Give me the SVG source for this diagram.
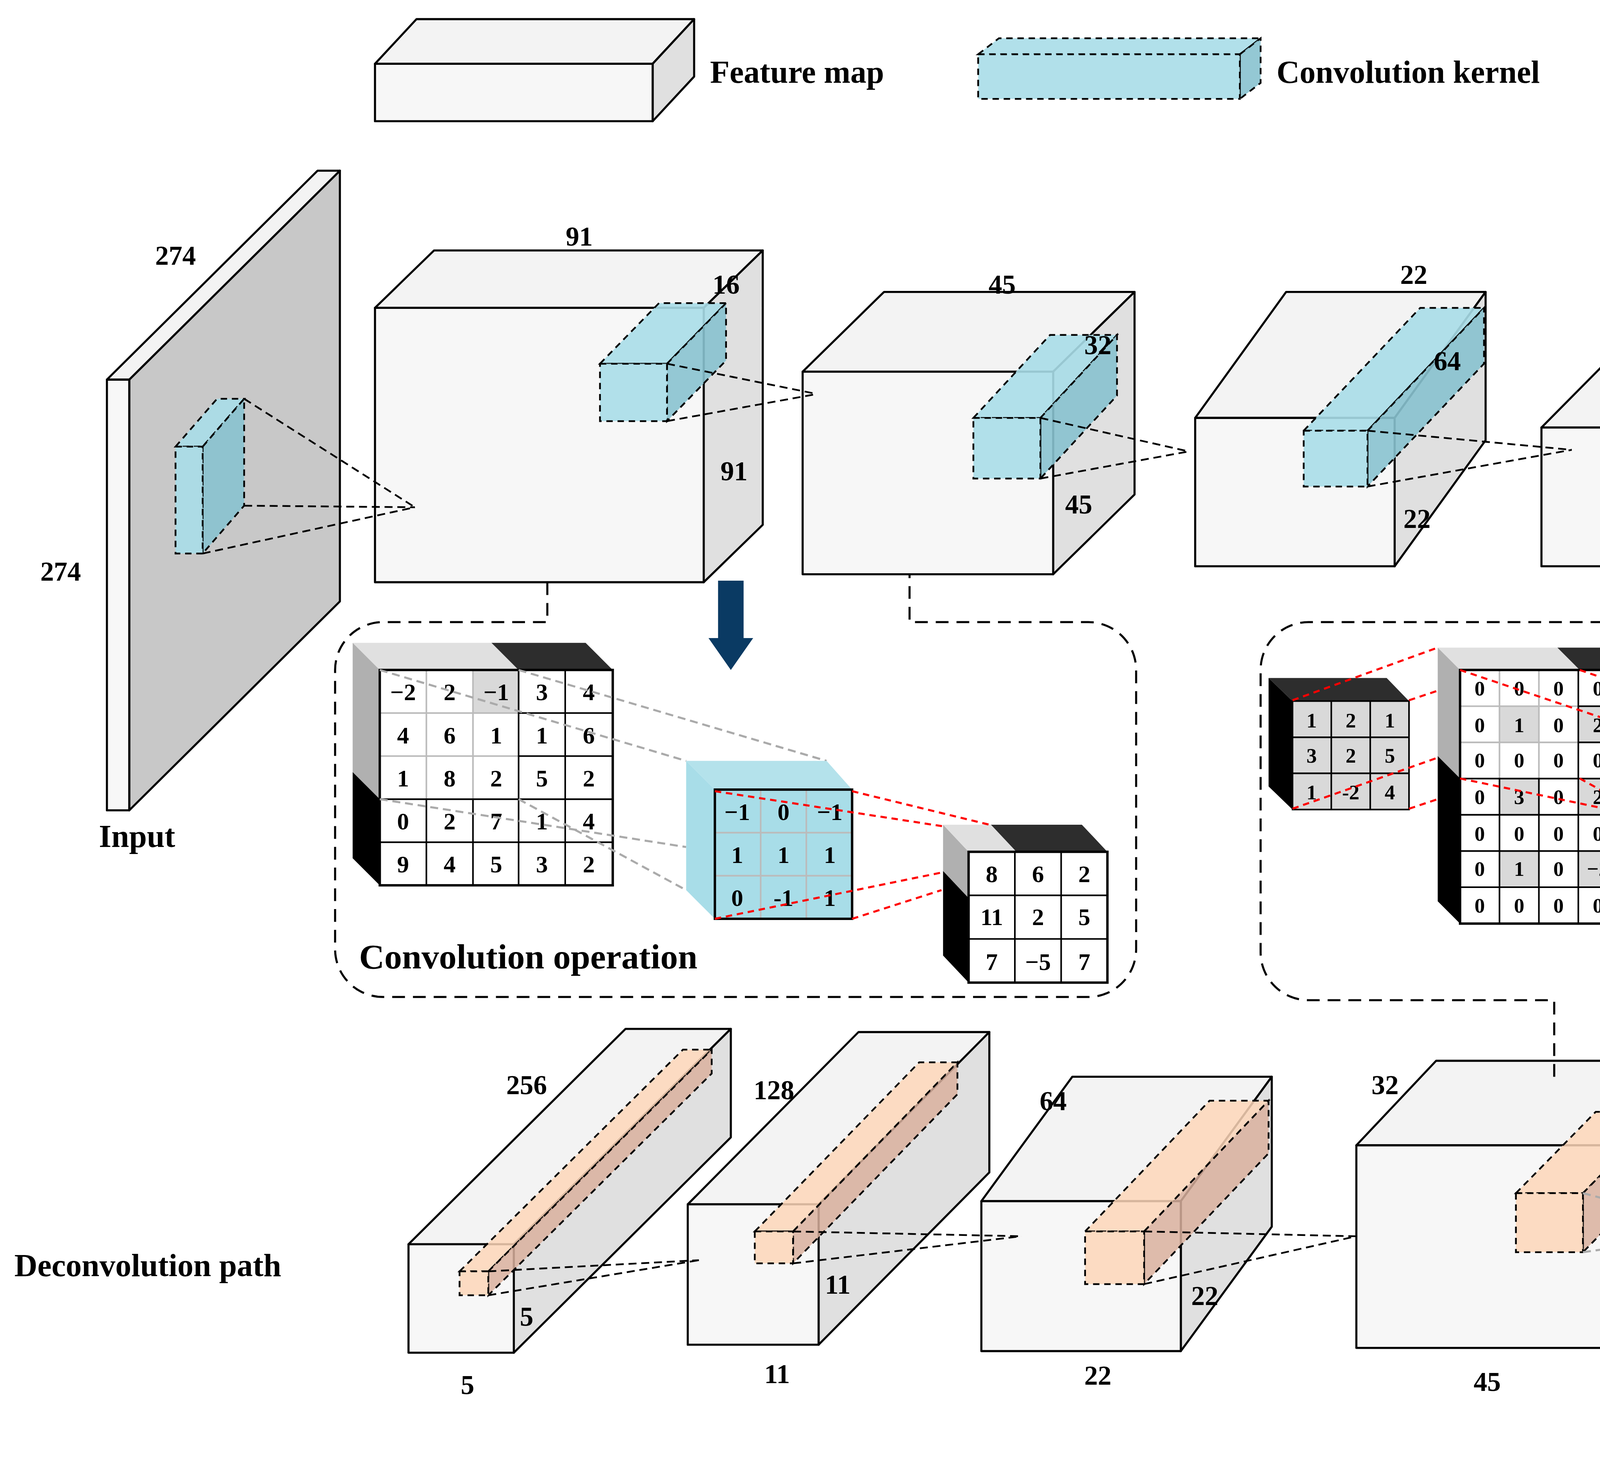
<svg xmlns="http://www.w3.org/2000/svg" width="6389" height="3744" viewBox="0 0 6389 3744">
<style>
.s{stroke:#000;stroke-width:1.3;stroke-linejoin:round}
.fr{fill:#f7f7f7}.tp{fill:#f3f3f3}.rt{fill:#e0e0e0}
.kb{fill:#a8dde8;stroke:#000;stroke-width:1.1;stroke-dasharray:4 3;fill-opacity:.9}
.kbr{fill:#88c2cf;stroke:#000;stroke-width:1.1;stroke-dasharray:4 3;fill-opacity:.9}
.kp{fill:#fdd6b8;stroke:#000;stroke-width:1.1;stroke-dasharray:4 3;fill-opacity:.85}
.kpr{fill:#d9b09e;stroke:#000;stroke-width:1.1;stroke-dasharray:4 3;fill-opacity:.85}
.dl{stroke:#000;stroke-width:1.1;stroke-dasharray:5 3;fill:none}
.gl{stroke:#aaa;stroke-width:1.3;stroke-dasharray:5 3;fill:none}
.rl{stroke:#f00;stroke-width:1.3;stroke-dasharray:4 3;fill:none}
.bx{stroke:#000;stroke-width:1.3;stroke-dasharray:8 5;fill:none}
text{font-family:"Liberation Serif","Times New Roman",serif;font-weight:bold;fill:#000}
.L{font-size:20px}.T{font-size:22px}.n{font-size:17px;text-anchor:middle}
.m{font-size:15px;text-anchor:middle}.q{font-size:13px;text-anchor:middle}
.cell{fill:#fff;stroke:#000;stroke-width:1}
.cg{fill:#d9d9d9;stroke:#000;stroke-width:1}
.lc{fill:none;stroke:#bbb;stroke-width:1}
.arr{fill:#0a3a63}
</style>
<rect width="6389" height="3744" fill="#fff"/>
<g transform="scale(4.085)">
<g id="legend">
<polygon class="s tp" points="235,40 261,12 435,12 409,40"/><polygon class="s rt" points="409,40 435,12 435,48 409,76"/><rect class="s fr" x="235" y="40" width="174" height="36"/>
<text class="L" x="445" y="52">Feature map</text>
<polygon class="kb" points="613,34 626,24 790,24 777,34"/><polygon class="kbr" points="777,34 790,24 790,52 777,62"/><rect class="kb" x="613" y="34" width="164" height="28"/>
<text class="L" x="800" y="52">Convolution kernel</text>
<polygon class="kp" points="1047,34 1060,24 1223,24 1210,34"/><polygon class="kpr" points="1210,34 1223,24 1223,52 1210,62"/><rect class="kp" x="1047" y="34" width="163" height="28"/>
<text class="L" x="1230" y="52">Deconvolution kernel</text>
</g>
<g id="input">
<polygon class="s" fill="#c8c8c8" points="81,238 213,107 213,377 81,508"/><polygon class="s tp" points="67,238 199,107 213,107 81,238"/><rect class="s fr" x="67" y="238" width="14" height="270"/>
<polygon class="kb" points="110,280 136,250 153,250 127,280"/><polygon class="kbr" points="127,280 153,250 153,317 127,347"/><rect class="kb" x="110" y="280" width="17" height="67"/>
<text class="n" x="110" y="166">274</text><text class="n" x="38" y="364">274</text><text class="L" x="62" y="531">Input</text>
</g>
<g id="cube1">
<polygon class="s tp" points="235,193 272,157 478,157 441,193"/><polygon class="s rt" points="441,193 478,157 478,329 441,365"/><rect class="s fr" x="235" y="193" width="206" height="172"/>
<polygon class="kb" points="376,228 413,190 455,190 418,228"/><polygon class="kbr" points="418,228 455,190 455,226 418,264"/><rect class="kb" x="376" y="228" width="42" height="36"/>
<text class="n" x="363" y="154">91</text><text class="n" x="455" y="184">16</text><text class="n" x="460" y="301">91</text>
</g>
<g id="cube2">
<polygon class="s tp" points="503,233 554,183 711,183 660,233"/><polygon class="s rt" points="660,233 711,183 711,310 660,360"/><rect class="s fr" x="503" y="233" width="157" height="127"/>
<polygon class="kb" points="610,262 658,210 700,210 652,262"/><polygon class="kbr" points="652,262 700,210 700,248 652,300"/><rect class="kb" x="610" y="262" width="42" height="38"/>
<text class="n" x="628" y="184">45</text><text class="n" x="688" y="222" fill="#333">32</text><text class="n" x="676" y="322">45</text>
</g>
<g id="cube3">
<polygon class="s tp" points="749,262 806,183 931,183 874,262"/><polygon class="s rt" points="874,262 931,183 931,276 874,355"/><rect class="s fr" x="749" y="262" width="125" height="93"/>
<polygon class="kb" points="817,270 890,193 930,193 857,270"/><polygon class="kbr" points="857,270 930,193 930,228 857,305"/><rect class="kb" x="817" y="270" width="40" height="35"/>
<text class="n" x="886" y="178">22</text><text class="n" x="907" y="232" fill="#336">64</text><text class="n" x="888" y="331">22</text>
</g>
<g id="cube4">
<polygon class="s tp" points="966,268 1073,160 1155,160 1048,268"/><polygon class="s rt" points="1048,268 1155,160 1155,247 1048,355"/><rect class="s fr" x="966" y="268" width="82" height="87"/>
<polygon class="kb" points="1013,290 1117,187 1140,187 1036,290"/><polygon class="kbr" points="1036,290 1140,187 1140,209 1036,312"/><rect class="kb" x="1013" y="290" width="23" height="22"/>
<text class="n" x="1118" y="158">11</text><text class="n" x="1100" y="234" fill="#336">128</text><text class="n" x="1060" y="334">11</text>
</g>
<g id="cube5">
<polygon class="s tp" points="1156,284 1293,148 1359,148 1222,284"/><polygon class="s rt" points="1222,284 1359,148 1359,219 1222,355"/><rect class="s fr" x="1156" y="284" width="66" height="71"/>
<text class="n" x="1325" y="146">5</text><text class="n" x="1285" y="237">256</text><text class="n" x="1230" y="334">5</text>
<text class="L" x="1371" y="276">Convolution path</text>
</g>
<g id="dcube1">
<polygon class="s tp" points="256,780 392,645 458,645 322,780"/><polygon class="s rt" points="322,780 458,645 458,713 322,848"/><rect class="s fr" x="256" y="780" width="66" height="68"/>
<polygon class="kp" points="288,797 428,658 446,658 306,797"/><polygon class="kpr" points="306,797 446,658 446,673 306,812"/><rect class="kp" x="288" y="797" width="18" height="15"/>
<text class="n" x="330" y="686">256</text><text class="n" x="330" y="831">5</text><text class="n" x="293" y="874">5</text>
<text class="L" x="9" y="800">Deconvolution path</text>
</g>
<g id="dcube2">
<polygon class="s tp" points="431,755 538,647 620,647 513,755"/><polygon class="s rt" points="513,755 620,647 620,735 513,843"/><rect class="s fr" x="431" y="755" width="82" height="88"/>
<polygon class="kp" points="473,772 576,666 600,666 497,772"/><polygon class="kpr" points="497,772 600,666 600,686 497,792"/><rect class="kp" x="473" y="772" width="24" height="20"/>
<text class="n" x="485" y="689">128</text><text class="n" x="525" y="811">11</text><text class="n" x="487" y="867">11</text>
</g>
<g id="dcube3">
<polygon class="s tp" points="615,753 672,675 797,675 740,753"/><polygon class="s rt" points="740,753 797,675 797,769 740,847"/><rect class="s fr" x="615" y="753" width="125" height="94"/>
<polygon class="kp" points="680,772 758,690 795,690 717,772"/><polygon class="kpr" points="717,772 795,690 795,723 717,805"/><rect class="kp" x="680" y="772" width="37" height="33"/>
<text class="n" x="660" y="696">64</text><text class="n" x="755" y="818">22</text><text class="n" x="688" y="868">22</text>
</g>
<g id="dcube4">
<polygon class="s tp" points="850,718 900,665 1058,665 1008,718"/><polygon class="s rt" points="1008,718 1058,665 1058,792 1008,845"/><rect class="s fr" x="850" y="718" width="158" height="127"/>
<polygon class="kp" points="950,748 1000,697 1042,697 992,748"/><polygon class="kpr" points="992,748 1042,697 1042,734 992,785"/><rect class="kp" x="950" y="748" width="42" height="37"/>
<text class="n" x="868" y="686">32</text><text class="n" x="1023" y="808">45</text><text class="n" x="932" y="872">45</text>
</g>
<g id="dcube5">
<polygon class="s tp" points="1072,688 1106,653 1312,653 1278,688"/><polygon class="s rt" points="1278,688 1312,653 1312,823 1278,858"/><rect class="s fr" x="1072" y="688" width="206" height="170"/>
<polygon class="kp" points="1207,728 1245,690 1286,690 1248,728"/><polygon class="kpr" points="1248,728 1286,690 1286,727 1248,765"/><rect class="kp" x="1207" y="728" width="41" height="37"/>
<text class="n" x="1082" y="668">16</text><text class="n" x="1293" y="778">91</text><text class="n" x="1193" y="879">91</text>
</g>
<g id="output">
<polygon class="s" fill="#c8c8c8" points="1382,636 1513,505 1513,776 1382,907"/><polygon class="s tp" points="1366,636 1497,505 1513,505 1382,636"/><rect class="s fr" x="1366" y="636" width="16" height="271"/>
<text class="n" x="1538" y="656">274</text><text class="n" x="1472" y="854">274</text><text class="L" x="1408" y="905">Output</text>
</g>
<g id="connectors">
<path class="dl" d="M153,250L260,318M127,347L260,318M153,317L260,318"/>
<path class="dl" d="M418,228L512,247M418,264L512,247"/>
<path class="dl" d="M652,262L745,283M652,300L745,283"/>
<path class="dl" d="M857,270L985,282M857,305L985,282"/>
<path class="dl" d="M1036,290L1163,290M1036,312L1163,290"/>
<path class="dl" d="M306,797L438,790M306,812L438,790"/>
<path class="dl" d="M497,772L640,775M497,792L640,775"/>
<path class="dl" d="M717,772L850,775M717,805L850,775"/>
<path class="gl" d="M992,748L1085,772M992,785L1085,772"/>
<path class="dl" d="M1248,728L1366,742M1248,765L1366,742"/>
<path class="bx" d="M343,365V390H240A30,30 0 0 0 210,420V595A30,30 0 0 0 240,625H682A30,30 0 0 0 712,595V420A30,30 0 0 0 682,390H570V360"/>
<path class="bx" d="M974,675V627H820A30,30 0 0 1 790,597V420A30,30 0 0 1 820,390H1336A30,30 0 0 1 1366,420V597A30,30 0 0 1 1336,627H1202V652"/>
<path class="arr" d="M450,364H466V400H472L458,420L444,400H450Z"/>
<path class="arr" d="M1068,652H1082V628H1088L1075,612L1062,628H1068Z"/>
</g>
<g id="convop">
<polygon points="221,403 308,403 325,420 238,420" fill="#e0e0e0"/><polygon points="308,403 367,403 384,420 325,420" fill="#2d2d2d"/>
<polygon points="221,403 238,420 238,501 221,484" fill="#b0b0b0"/><polygon points="221,484 238,501 238,555 221,538" fill="#000"/>
<g id="m1">
<rect class="cell" x="238" y="420" width="146" height="135"/>
<rect x="296.4" y="420" width="29.2" height="27" fill="#d9d9d9"/>
<path class="lc" d="M267.2,420V501M296.4,420V501M238,447H325M238,474H325"/>
<path stroke="#000" stroke-width="1" d="M325,420V555M354.2,420V555M325,447H384M325,474H384M238,501H384M238,528H384M267.2,501V555M296.4,501V555"/>
<rect x="238" y="420" width="146" height="135" fill="none" stroke="#000" stroke-width="1.5"/>
</g>
<g class="m">
<text x="252.6" y="439">−2</text><text x="281.8" y="439">2</text><text x="311" y="439">−1</text><text x="339.6" y="439">3</text><text x="369" y="439">4</text>
<text x="252.6" y="466">4</text><text x="281.8" y="466">6</text><text x="311" y="466">1</text><text x="339.6" y="466">1</text><text x="369" y="466">6</text>
<text x="252.6" y="493">1</text><text x="281.8" y="493">8</text><text x="311" y="493">2</text><text x="339.6" y="493">5</text><text x="369" y="493">2</text>
<text x="252.6" y="520">0</text><text x="281.8" y="520">2</text><text x="311" y="520">7</text><text x="339.6" y="520">1</text><text x="369" y="520">4</text>
<text x="252.6" y="547">9</text><text x="281.8" y="547">4</text><text x="311" y="547">5</text><text x="339.6" y="547">3</text><text x="369" y="547">2</text>
</g>
<path class="gl" d="M238,420L430,477M325,420L518,477M238,501L430,531M325,501L430,558"/>
<polygon points="430,477 518,477 534,495 448,495" fill="#b4e2eb"/><polygon points="430,477 448,495 448,576 430,558" fill="#a8dde8"/>
<rect x="448" y="495" width="86" height="81" fill="#a8dde8"/>
<path class="lc" d="M476.7,495V576M505.3,495V576M448,522H534M448,549H534" stroke="#999"/>
<rect x="448" y="495" width="86" height="81" fill="none" stroke="#000" stroke-width="1.5"/>
<g class="m">
<text x="462" y="514">−1</text><text x="491" y="514">0</text><text x="520" y="514">−1</text>
<text x="462" y="541">1</text><text x="491" y="541">1</text><text x="520" y="541">1</text>
<text x="462" y="568">0</text><text x="491" y="568">-1</text><text x="520" y="568">1</text>
</g>
<polygon points="591,517 621,517 637,534 607,534" fill="#e0e0e0"/><polygon points="621,517 678,517 694,534 637,534" fill="#2d2d2d"/>
<polygon points="591,517 607,534 607,563 591,546" fill="#b0b0b0"/><polygon points="591,546 607,563 607,616 591,599" fill="#000"/>
<rect class="cell" x="607" y="534" width="87" height="82"/>
<path stroke="#000" stroke-width="1" d="M636,534V616M665,534V616M607,561.3H694M607,588.6H694"/>
<rect x="607" y="534" width="87" height="82" fill="none" stroke="#000" stroke-width="1.5"/>
<g class="m">
<text x="621.5" y="553">8</text><text x="650.5" y="553">6</text><text x="679.5" y="553">2</text>
<text x="621.5" y="580">11</text><text x="650.5" y="580">2</text><text x="679.5" y="580">5</text>
<text x="621.5" y="608">7</text><text x="650.5" y="608">−5</text><text x="679.5" y="608">7</text>
</g>
<path class="rl" d="M448,496L591,518M534,496L620,517M448,576L590,547M534,576L590,558"/>
<text class="T" x="225" y="607">Convolution operation</text>
</g>
<g id="deconvop">
<text class="T" x="1100" y="434">Deconvolution operation</text>
<polygon points="795,425 869,425 883,439.5 810,439.5" fill="#2d2d2d"/><polygon points="795,425 810,439.5 810,507.5 795,493" fill="#000"/>
<rect class="cg" x="810" y="439.5" width="73" height="68"/>
<path stroke="#000" stroke-width="1" d="M834.3,439.5V507.5M858.7,439.5V507.5M810,462.2H883M810,484.8H883"/>
<g class="q">
<text x="822" y="456">1</text><text x="846.5" y="456">2</text><text x="871" y="456">1</text>
<text x="822" y="478">3</text><text x="846.5" y="478">2</text><text x="871" y="478">5</text>
<text x="822" y="501">1</text><text x="846.5" y="501">-2</text><text x="871" y="501">4</text>
</g>
<polygon points="901,406 976,406 990,420 915,420" fill="#e0e0e0"/><polygon points="976,406 1074,406 1088,420 990,420" fill="#2d2d2d"/>
<polygon points="901,406 915,420 915,488 901,474" fill="#b0b0b0"/><polygon points="901,474 915,488 915,579 901,565" fill="#000"/>
<rect class="cell" x="915" y="420" width="173" height="159"/>
<g fill="#d9d9d9">
<rect x="939.7" y="442.7" width="24.7" height="22.7"/><rect x="989.1" y="442.7" width="24.7" height="22.7"/><rect x="1038.5" y="442.7" width="24.7" height="22.7"/>
<rect x="939.7" y="488.1" width="24.7" height="22.7"/><rect x="989.1" y="488.1" width="24.7" height="22.7"/><rect x="1038.5" y="488.1" width="24.7" height="22.7"/>
<rect x="939.7" y="533.5" width="24.7" height="22.7"/><rect x="989.1" y="533.5" width="24.7" height="22.7"/><rect x="1038.5" y="533.5" width="24.7" height="22.7"/>
</g>
<path class="lc" d="M939.7,420V488M964.4,420V488M915,442.7H989M915,465.4H989"/>
<path stroke="#000" stroke-width="1" d="M989.1,420V579M1013.8,420V579M1038.5,420V579M1063.2,420V579M939.7,488V579M964.4,488V579M989,442.7H1088M989,465.4H1088M915,488.1H1088M915,510.8H1088M915,533.5H1088M915,556.2H1088"/>
<rect x="915" y="420" width="173" height="159" fill="none" stroke="#000" stroke-width="1.5"/>
<g class="q">
<text x="927.3" y="436">0</text><text x="952" y="436">0</text><text x="976.7" y="436">0</text><text x="1001.4" y="436">0</text><text x="1026.1" y="436">0</text><text x="1050.8" y="436">0</text><text x="1075.5" y="436">0</text>
<text x="927.3" y="459">0</text><text x="952" y="459">1</text><text x="976.7" y="459">0</text><text x="1001.4" y="459">2</text><text x="1026.1" y="459">0</text><text x="1050.8" y="459">1</text><text x="1075.5" y="459">0</text>
<text x="927.3" y="481">0</text><text x="952" y="481">0</text><text x="976.7" y="481">0</text><text x="1001.4" y="481">0</text><text x="1026.1" y="481">0</text><text x="1050.8" y="481">0</text><text x="1075.5" y="481">0</text>
<text x="927.3" y="504">0</text><text x="952" y="504">3</text><text x="976.7" y="504">0</text><text x="1001.4" y="504">2</text><text x="1026.1" y="504">0</text><text x="1050.8" y="504">5</text><text x="1075.5" y="504">0</text>
<text x="927.3" y="527">0</text><text x="952" y="527">0</text><text x="976.7" y="527">0</text><text x="1001.4" y="527">0</text><text x="1026.1" y="527">0</text><text x="1050.8" y="527">0</text><text x="1075.5" y="527">0</text>
<text x="927.3" y="549">0</text><text x="952" y="549">1</text><text x="976.7" y="549">0</text><text x="1001.4" y="549">−2</text><text x="1026.1" y="549">0</text><text x="1050.8" y="549">4</text><text x="1075.5" y="549">0</text>
<text x="927.3" y="572">0</text><text x="952" y="572">0</text><text x="976.7" y="572">0</text><text x="1001.4" y="572">0</text><text x="1026.1" y="572">0</text><text x="1050.8" y="572">0</text><text x="1075.5" y="572">0</text>
</g>
<path class="rl" d="M810,439L901,406M883,439L901,433M810,507L901,475M883,507L901,501"/>
<path class="rl" d="M915,420L1102,483M990,420L1170,482M915,488L1102,527M990,488L1102,550"/>
<polygon points="1103,482.4 1176,482.4 1191,497 1118,497" fill="#fddcc4"/><polygon points="1103,482.4 1118,497 1118,566 1103,551" fill="#fdd0b0"/>
<rect x="1118" y="497" width="73" height="69" fill="#fdd0b0"/>
<path class="lc" d="M1142.3,497V566M1166.6,497V566M1118,520H1191M1118,543H1191" stroke="#c9a"/>
<rect x="1118" y="497" width="73" height="69" fill="none" stroke="#000" stroke-width="1.5"/>
<g class="q">
<text x="1130" y="515">1</text><text x="1154.5" y="515">0</text><text x="1179" y="515">−1</text>
<text x="1130" y="538">0</text><text x="1154.5" y="538">1</text><text x="1179" y="538">0</text>
<text x="1130" y="561">−1</text><text x="1154.5" y="561">0</text><text x="1179" y="561">1</text>
</g>
<polygon points="1217,482.4 1243,482.4 1256,496.4 1231,496.4" fill="#e0e0e0"/><polygon points="1243,482.4 1341,482.4 1355,496.4 1256,496.4" fill="#2d2d2d"/>
<polygon points="1217,482.4 1231,496.4 1231,519 1217,505" fill="#b0b0b0"/><polygon points="1217,505 1231,519 1231,610 1217,596" fill="#000"/>
<rect class="cell" x="1231" y="496.4" width="124" height="113.6"/>
<path stroke="#000" stroke-width="1" d="M1255.8,496.4V610M1280.6,496.4V610M1305.4,496.4V610M1330.2,496.4V610M1231,519.1H1355M1231,541.8H1355M1231,564.5H1355M1231,587.3H1355"/>
<rect x="1231" y="496.4" width="124" height="113.6" fill="none" stroke="#000" stroke-width="1.5"/>
<g class="q">
<text x="1243.4" y="513">1</text><text x="1268.2" y="513">0</text><text x="1293" y="513">2</text><text x="1317.8" y="513">0</text><text x="1342.6" y="513">1</text>
<text x="1243.4" y="535">0</text><text x="1268.2" y="535">−2</text><text x="1293" y="535">0</text><text x="1317.8" y="535">4</text><text x="1342.6" y="535">0</text>
<text x="1243.4" y="558">3</text><text x="1268.2" y="558">0</text><text x="1293" y="558">2</text><text x="1317.8" y="558">0</text><text x="1342.6" y="558">5</text>
<text x="1243.4" y="581">0</text><text x="1268.2" y="581">−2</text><text x="1293" y="581">0</text><text x="1317.8" y="581">5</text><text x="1342.6" y="581">0</text>
<text x="1243.4" y="603">1</text><text x="1268.2" y="603">0</text><text x="1293" y="603">−2</text><text x="1317.8" y="603">0</text><text x="1342.6" y="603">4</text>
</g>
<path class="rl" d="M1118,497L1217,484M1191,497L1217,491M1118,566L1217,507M1191,566L1217,535"/>
</g>
</g>
</svg>
